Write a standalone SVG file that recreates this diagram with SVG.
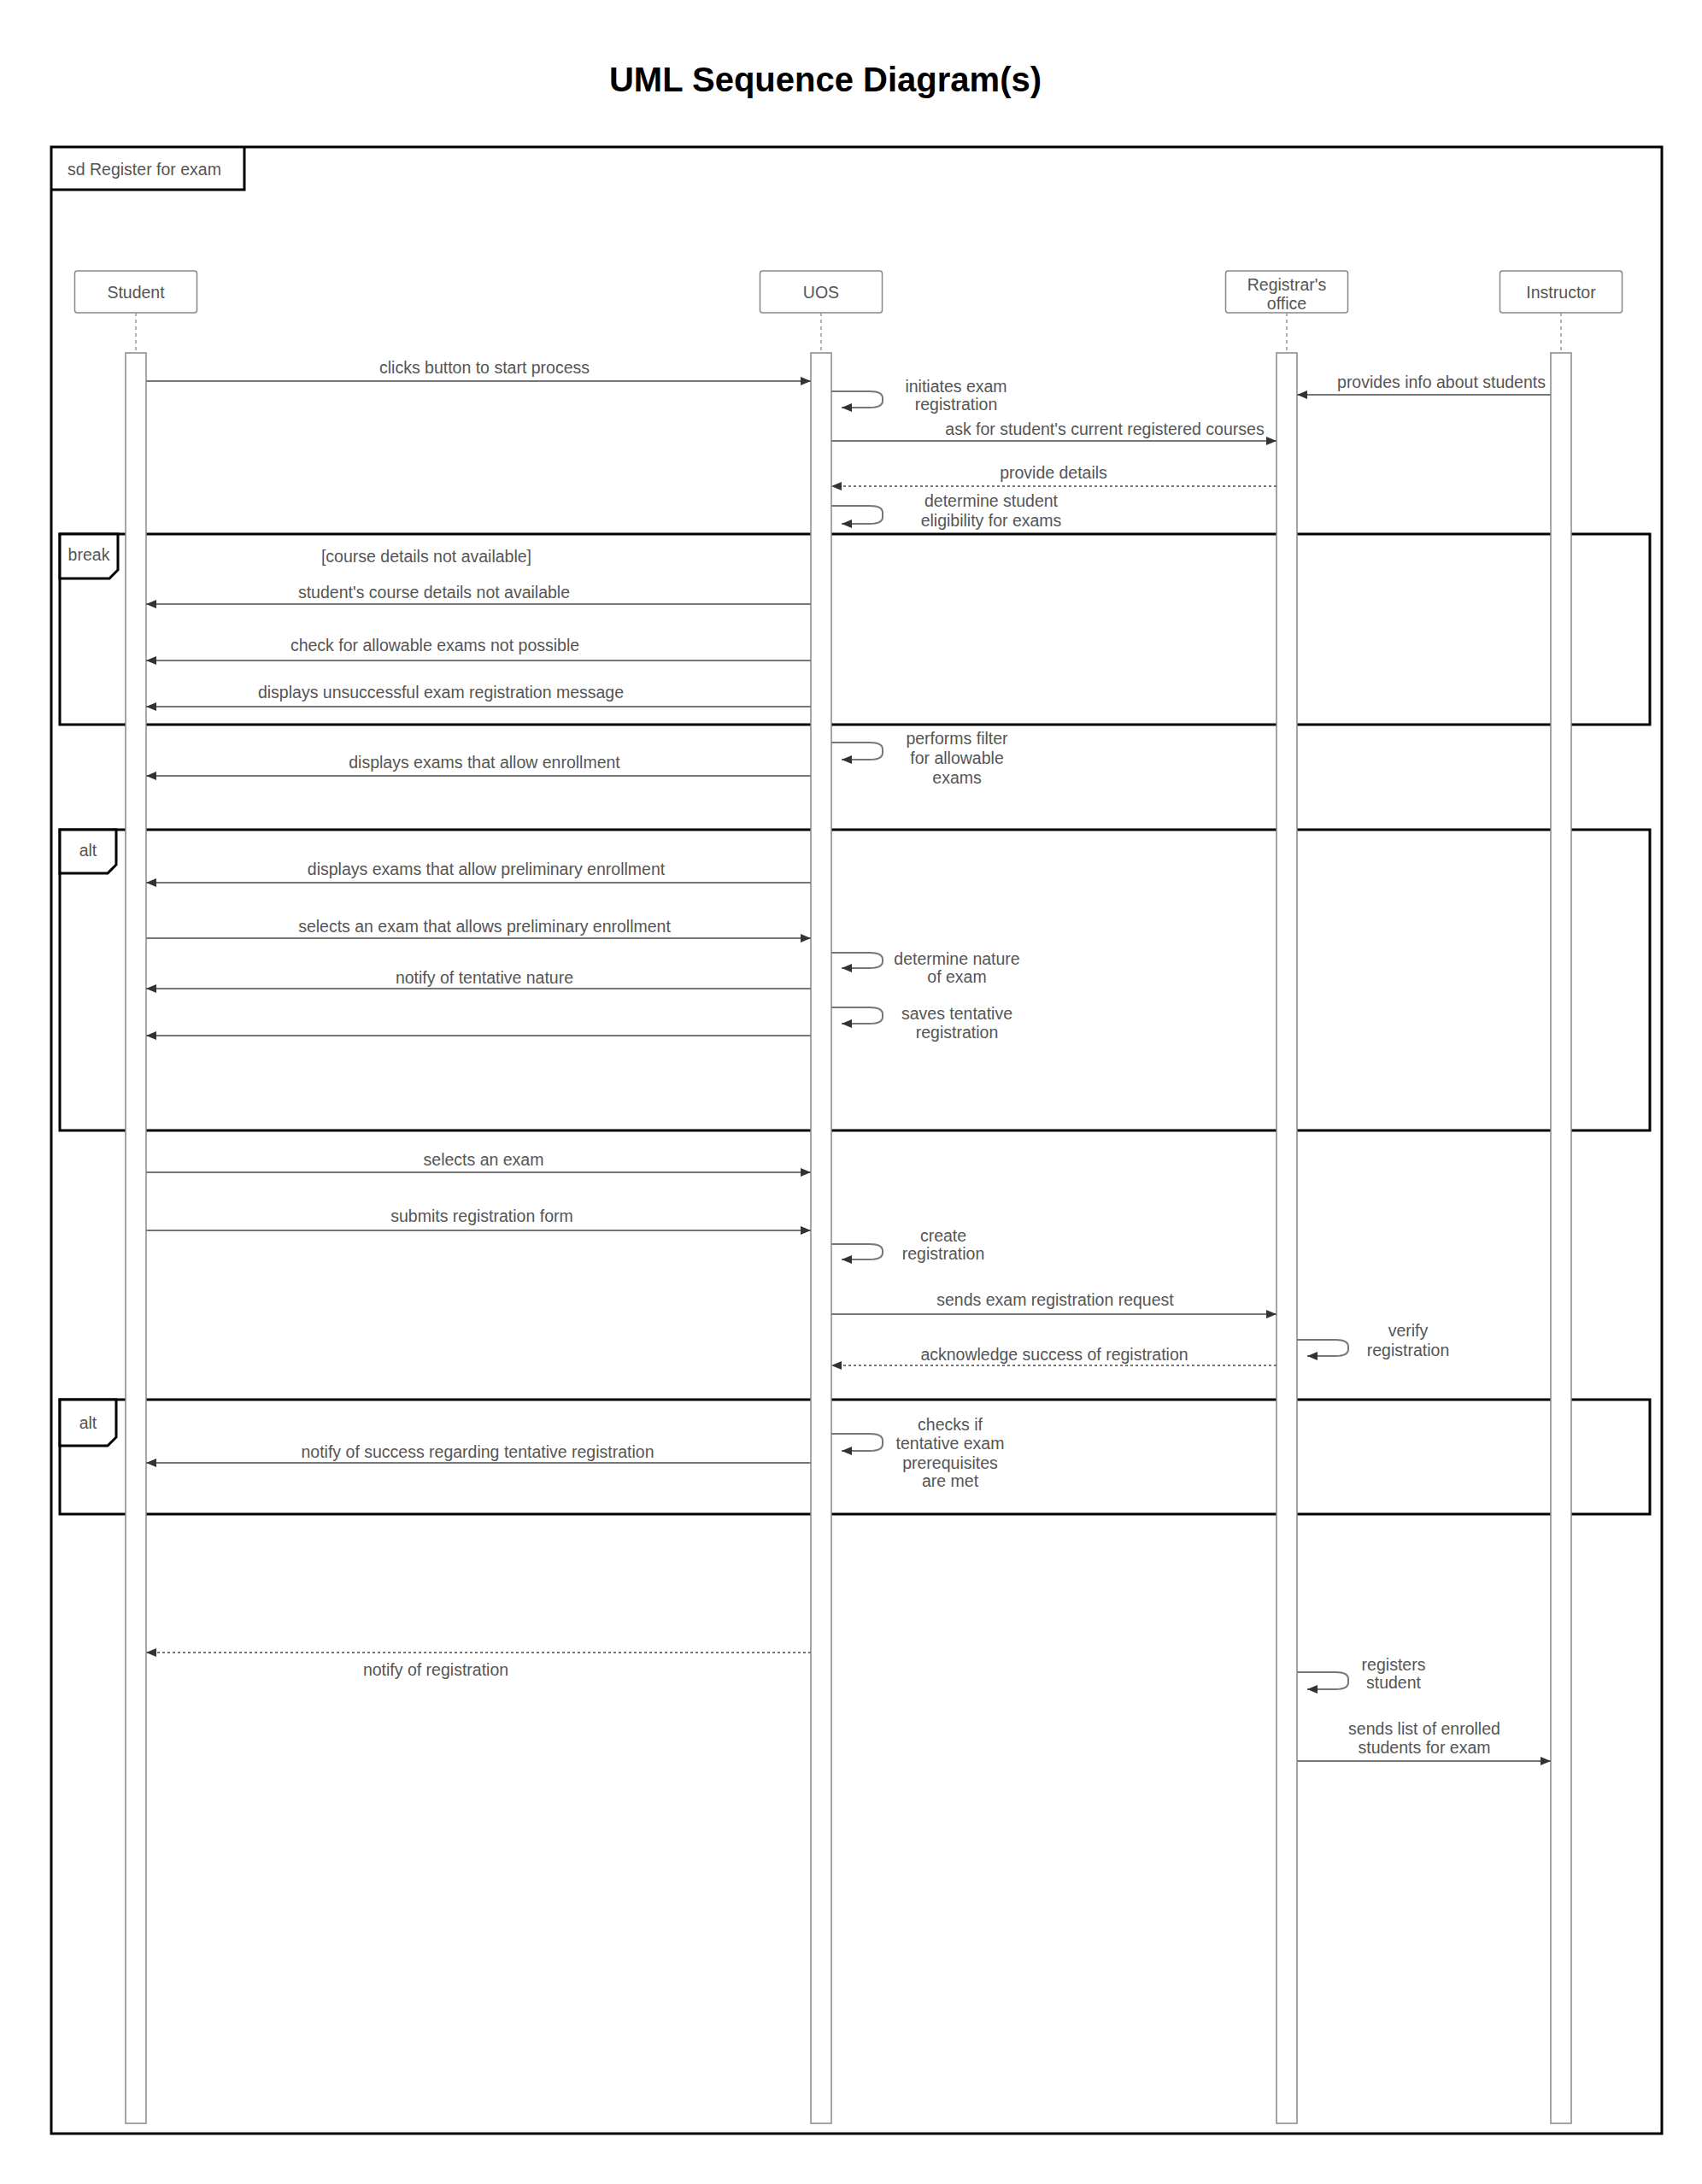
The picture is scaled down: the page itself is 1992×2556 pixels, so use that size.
<svg xmlns="http://www.w3.org/2000/svg" width="1992" height="2556" viewBox="0 0 1992 2556">
<style>
text{font-family:"Liberation Sans",Arial,sans-serif;font-size:19.5px;fill:#555}
.title{font-size:40px;font-weight:bold;fill:#000}
.mid{text-anchor:middle}
.head{fill:#fff;stroke:#888;stroke-width:1.5}
.bar{fill:#fff;stroke:#888;stroke-width:1.5}
.stub{stroke:#999;stroke-width:1.5;stroke-dasharray:4 4}
.frame{fill:none;stroke:#000;stroke-width:3}
.lbl{fill:#fff;stroke:#000;stroke-width:3}
.msg{fill:none;stroke:#777;stroke-width:2}
.ret{fill:none;stroke:#777;stroke-width:2;stroke-dasharray:3 3}
</style>
<defs>
<marker id="ah" markerWidth="12" markerHeight="10" refX="12" refY="5" orient="auto" markerUnits="userSpaceOnUse"><path d="M0,0 L12,5 L0,10 z" fill="#333"/></marker>
</defs>
<rect width="1992" height="2556" fill="#fff"/>
<text class="title mid" x="966" y="107">UML Sequence Diagram(s)</text>

<g id="frame-sd">
<rect class="frame" x="60" y="172" width="1885" height="2325"/>
<path class="frame" d="M60 222 H286 V172"/>
<text x="79" y="205">sd Register for exam</text>
</g>

<g id="fragments">
<g id="frag-break">
<rect class="frame" x="70" y="625" width="1861" height="223"/>
<path class="lbl" d="M70 625 H138 V667 L128 677 H70 Z"/>
<text class="mid" x="104" y="656">break</text>
<text class="mid" x="499" y="658">[course details not available]</text>
</g>
<g id="frag-alt-1">
<rect class="frame" x="70" y="971" width="1861" height="352"/>
<path class="lbl" d="M70 971 H136 V1012 L126 1022 H70 Z"/>
<text class="mid" x="103" y="1002">alt</text>
</g>
<g id="frag-alt-2">
<rect class="frame" x="70" y="1638" width="1861" height="134"/>
<path class="lbl" d="M70 1638 H136 V1682 L126 1692 H70 Z"/>
<text class="mid" x="103" y="1672">alt</text>
</g>
</g>

<g id="node-student">
<rect class="head" x="87.5" y="317" width="143" height="49" rx="3"/>
<text class="mid" x="159" y="349">Student</text>
<line class="stub" x1="159" y1="366" x2="159" y2="413"/>
<rect class="bar" x="147" y="413" width="24" height="2072"/>
</g>
<g id="node-uos">
<rect class="head" x="889.5" y="317" width="143" height="49" rx="3"/>
<text class="mid" x="961" y="349">UOS</text>
<line class="stub" x1="961" y1="366" x2="961" y2="413"/>
<rect class="bar" x="949" y="413" width="24" height="2072"/>
</g>
<g id="node-registrar">
<rect class="head" x="1434.5" y="317" width="143" height="49" rx="3"/>
<text class="mid" x="1506" y="340">Registrar's</text>
<text class="mid" x="1506" y="362">office</text>
<line class="stub" x1="1506" y1="366" x2="1506" y2="413"/>
<rect class="bar" x="1494" y="413" width="24" height="2072"/>
</g>
<g id="node-instructor">
<rect class="head" x="1755.5" y="317" width="143" height="49" rx="3"/>
<text class="mid" x="1827" y="349">Instructor</text>
<line class="stub" x1="1827" y1="366" x2="1827" y2="413"/>
<rect class="bar" x="1815" y="413" width="24" height="2072"/>
</g>

<g id="connectors">
<line class="msg" x1="171" y1="446" x2="949" y2="446" marker-end="url(#ah)"/>
<line class="msg" x1="1815" y1="462" x2="1518" y2="462" marker-end="url(#ah)"/>
<path class="msg" d="M973 458 H1018 Q1033 458 1033 466 V469 Q1033 477 1018 477 H985" marker-end="url(#ah)"/>
<line class="msg" x1="973" y1="516" x2="1494" y2="516" marker-end="url(#ah)"/>
<line class="ret" x1="1494" y1="569" x2="973" y2="569" marker-end="url(#ah)"/>
<path class="msg" d="M973 592 H1018 Q1033 592 1033 600 V605 Q1033 613 1018 613 H985" marker-end="url(#ah)"/>
<line class="msg" x1="949" y1="707" x2="171" y2="707" marker-end="url(#ah)"/>
<line class="msg" x1="949" y1="773" x2="171" y2="773" marker-end="url(#ah)"/>
<line class="msg" x1="949" y1="827" x2="171" y2="827" marker-end="url(#ah)"/>
<path class="msg" d="M973 869 H1018 Q1033 869 1033 877 V881 Q1033 889 1018 889 H985" marker-end="url(#ah)"/>
<line class="msg" x1="949" y1="908" x2="171" y2="908" marker-end="url(#ah)"/>
<line class="msg" x1="949" y1="1033" x2="171" y2="1033" marker-end="url(#ah)"/>
<line class="msg" x1="171" y1="1098" x2="949" y2="1098" marker-end="url(#ah)"/>
<path class="msg" d="M973 1115 H1018 Q1033 1115 1033 1123 V1125 Q1033 1133 1018 1133 H985" marker-end="url(#ah)"/>
<line class="msg" x1="949" y1="1157" x2="171" y2="1157" marker-end="url(#ah)"/>
<path class="msg" d="M973 1179 H1018 Q1033 1179 1033 1187 V1190 Q1033 1198 1018 1198 H985" marker-end="url(#ah)"/>
<line class="msg" x1="949" y1="1212" x2="171" y2="1212" marker-end="url(#ah)"/>
<line class="msg" x1="171" y1="1372" x2="949" y2="1372" marker-end="url(#ah)"/>
<line class="msg" x1="171" y1="1440" x2="949" y2="1440" marker-end="url(#ah)"/>
<path class="msg" d="M973 1456 H1018 Q1033 1456 1033 1464 V1466 Q1033 1474 1018 1474 H985" marker-end="url(#ah)"/>
<line class="msg" x1="973" y1="1538" x2="1494" y2="1538" marker-end="url(#ah)"/>
<path class="msg" d="M1518 1568 H1563 Q1578 1568 1578 1576 V1579 Q1578 1587 1563 1587 H1530" marker-end="url(#ah)"/>
<line class="ret" x1="1494" y1="1598" x2="973" y2="1598" marker-end="url(#ah)"/>
<path class="msg" d="M973 1678 H1018 Q1033 1678 1033 1686 V1690 Q1033 1698 1018 1698 H985" marker-end="url(#ah)"/>
<line class="msg" x1="949" y1="1712" x2="171" y2="1712" marker-end="url(#ah)"/>
<line class="ret" x1="949" y1="1934" x2="171" y2="1934" marker-end="url(#ah)"/>
<path class="msg" d="M1518 1957 H1563 Q1578 1957 1578 1965 V1969 Q1578 1977 1563 1977 H1530" marker-end="url(#ah)"/>
<line class="msg" x1="1518" y1="2061" x2="1815" y2="2061" marker-end="url(#ah)"/>
</g>

<g id="message-labels">
<text class="mid" x="567" y="437">clicks button to start process</text>
<text class="mid" x="1687" y="454">provides info about students</text>
<text class="mid" x="1119" y="459">initiates exam</text>
<text class="mid" x="1119" y="480">registration</text>
<text class="mid" x="1293" y="509">ask for student's current registered courses</text>
<text class="mid" x="1233" y="560">provide details</text>
<text class="mid" x="1160" y="593">determine student</text>
<text class="mid" x="1160" y="616">eligibility for exams</text>
<text class="mid" x="508" y="700">student's course details not available</text>
<text class="mid" x="509" y="762">check for allowable exams not possible</text>
<text class="mid" x="516" y="817">displays unsuccessful exam registration message</text>
<text class="mid" x="1120" y="871">performs filter</text>
<text class="mid" x="1120" y="894">for allowable</text>
<text class="mid" x="1120" y="917">exams</text>
<text class="mid" x="567" y="899">displays exams that allow enrollment</text>
<text class="mid" x="569" y="1024">displays exams that allow preliminary enrollment</text>
<text class="mid" x="567" y="1091">selects an exam that allows preliminary enrollment</text>
<text class="mid" x="1120" y="1129">determine nature</text>
<text class="mid" x="1120" y="1150">of exam</text>
<text class="mid" x="567" y="1151">notify of tentative nature</text>
<text class="mid" x="1120" y="1193">saves tentative</text>
<text class="mid" x="1120" y="1215">registration</text>
<text class="mid" x="566" y="1364">selects an exam</text>
<text class="mid" x="564" y="1430">submits registration form</text>
<text class="mid" x="1104" y="1453">create</text>
<text class="mid" x="1104" y="1474">registration</text>
<text class="mid" x="1235" y="1528">sends exam registration request</text>
<text class="mid" x="1648" y="1564">verify</text>
<text class="mid" x="1648" y="1587">registration</text>
<text class="mid" x="1234" y="1592">acknowledge success of registration</text>
<text class="mid" x="1112" y="1674">checks if</text>
<text class="mid" x="1112" y="1696">tentative exam</text>
<text class="mid" x="1112" y="1719">prerequisites</text>
<text class="mid" x="1112" y="1740">are met</text>
<text class="mid" x="559" y="1706">notify of success regarding tentative registration</text>
<text class="mid" x="510" y="1961">notify of registration</text>
<text class="mid" x="1631" y="1955">registers</text>
<text class="mid" x="1631" y="1976">student</text>
<text class="mid" x="1667" y="2030">sends list of enrolled</text>
<text class="mid" x="1667" y="2052">students for exam</text>
</g>
</svg>
